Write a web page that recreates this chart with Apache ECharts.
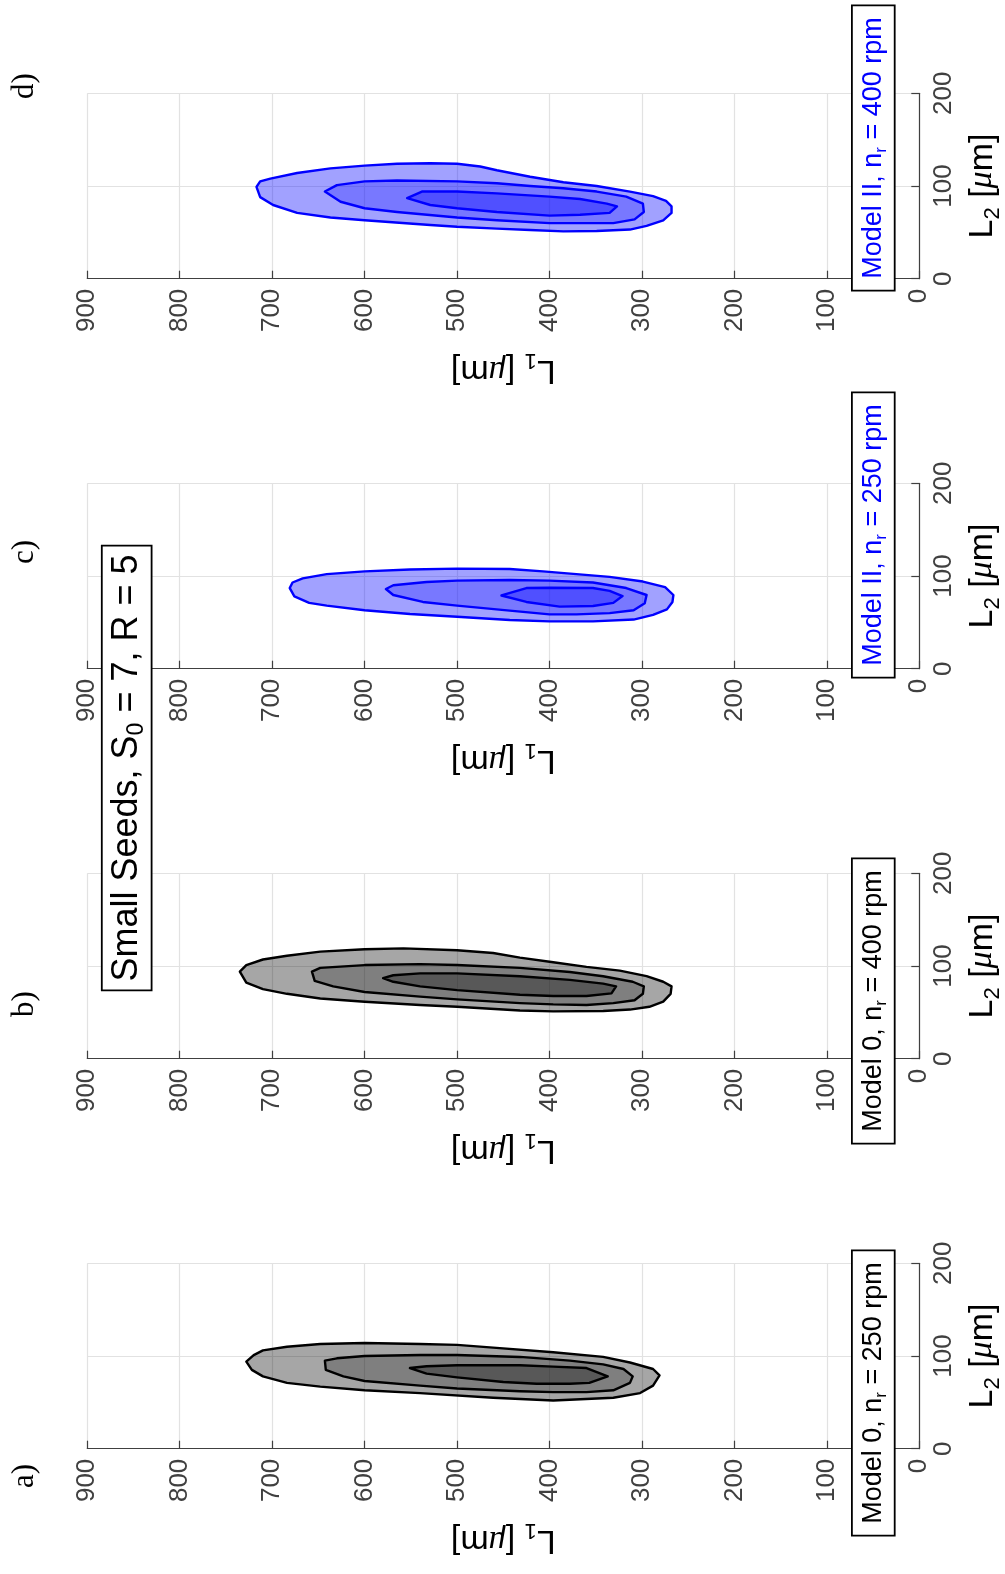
<!DOCTYPE html>
<html>
<head>
<meta charset="utf-8">
<script src="https://cdn.jsdelivr.net/npm/echarts@6/dist/echarts.min.js"></script>
<style>
html, body { margin: 0; padding: 0; background: #ffffff; }
#chart { width: 1005px; height: 1574px; }
</style>
</head>
<body>
<div id="chart"></div>
<script>
// ---------------- DATA ----------------
// Axis ticks
const L1_TICKS = [0, 100, 200, 300, 400, 500, 600, 700, 800, 900];
const L2_TICKS = [0, 100, 200];

// Panel texts
const PANEL_LETTERS = ['a)', 'b)', 'c)', 'd)'];
const PANEL_MODELS = ['Model 0', 'Model 0', 'Model II', 'Model II'];
const PANEL_RPM = ['250', '400', '250', '400'];
const FIG_TITLE = ['Small Seeds, S', '0', ' = 7, R = 5'];

// Contour polygons, points are [L1 (μm), L2 (μm)]
// Panel a) Model 0, 250 rpm
const a_outer = [[728,94],[720,101],[710,106],[684,110],[648,113],[600,114],[540,113],[500,112],[461,109],[396,104],[342,99],[313,93],[288,86],[281,79],[288,68],[302,60],[331,55],[396,52],[461,55],[540,60],[600,63],[648,67],[684,71],[710,78],[722,85]];
const a_mid = [[643,95],[630,97.5],[600,100],[540,101],[500,101],[432,99],[378,95],[342,91],[320,86],[310,78],[313,71],[331,63],[360,61],[396,61],[432,62],[500,65],[540,68],[600,73],[623,78],[642,85]];
const a_in = [[551,87],[533,89],[500,90],[432,90],[396,88.5],[360,87],[337,78],[357,71],[378,70],[414,70],[450,72],[500,77],[533,81]];
// Panel b) Model 0, 400 rpm
const b_outer = [[735,94],[728,101],[710,107],[684,111],[648,115.5],[600,118],[558,119],[500,117],[461,114],[432,109],[396,104],[360,99],[324,95],[295,89],[277,83],[268,78],[269,70],[277,61.5],[292,56],[313,53],[342,51.5],[396,51],[432,52],[500,56],[540,58],[600,61.5],[648,65],[684,70],[710,75],[728,82]];
const b_mid = [[657,94],[648,98],[600,101],[540,102],[500,101],[432,98],[378,93.5],[342,89],[310,83],[298,78],[299,70],[308,63],[331,60],[360,58],[396,58.6],[432,60],[500,64],[540,67],[600,72],[634,78],[654,84]];
const b_in = [[580,87],[569,90],[540,92],[500,92],[432,89],[378,85],[342,81],[328,78],[333,70.5],[360,67.6],[396,67.6],[432,69],[500,74],[540,78],[569,83]];
// Panel c) Model II, 250 rpm
const c_outer = [[681,87],[678,93],[667,97.5],[641,102],[600,105],[551,107],[500,108],[443,107.6],[407,105],[371,102],[335,99],[299,94],[275,88],[266,79.5],[267,72],[273,64],[288,58],[309,53],[353,51],[400,51],[443,52.5],[500,56],[551,59],[600,63],[641,68],[660,71],[676,78]];
const c_mid = [[577,86],[569,90],[533,93.5],[500,95],[443,95.7],[400,95],[353,93],[317,87],[295,79.5],[297,70.5],[309,63],[335,60],[371,58.6],[400,58.6],[443,62.6],[500,68],[537,72],[569,79.5]];
const c_in = [[452,79],[425,87],[400,87.4],[353,87],[335,84],[321,78.4],[331,71],[353,67.6],[389,67],[425,72]];
// Panel d) Model II, 400 rpm
const d_outer = [[717,99],[713,105],[702,108],[673,114],[637,119],[600,122],[565,124],[529,124.5],[500,124],[475,121],[457,117],[421,110],[385,104],[349,100],[313,94],[288,89],[274,84],[268,78],[268,71],[277,63],[295,57],[313,53],[349,51.4],[385,51],[421,52.5],[457,54],[500,56],[529,58],[600,63],[637,66],[673,71],[699,79.5],[713,88]];
const d_mid = [[643,94],[630,101],[600,105],[565,106],[500,105],[457,103],[421,100],[385,97.5],[349,94],[317,88.5],[299,81],[298,72],[308,64],[331,60],[367,60],[400,60],[457,63],[500,66],[565,72],[600,76],[626,83]];
const d_in = [[554,87],[538,94],[500,94],[457,92],[400,88.5],[367,86],[338,81],[327,78],[335,71],[367,69],[400,68],[457,72],[500,76],[529,79.5]];

const PANEL_CONTOURS = [
  [a_outer, a_mid, a_in],
  [b_outer, b_mid, b_in],
  [c_outer, c_mid, c_in],
  [d_outer, d_mid, d_in]
];

// ---------------- STYLE / LAYOUT ----------------
const GRID_TOPS = [1263.3, 873.3, 483.3, 93.3];   // panel a at bottom, d at top
const GRID_LEFT = 87.3, GRID_W = 832, GRID_H = 185.4;
const GRAY_FILLS = ['rgba(0,0,0,0.35)', 'rgba(0,0,0,0.23)', 'rgba(0,0,0,0.30)'];
const BLUE_FILLS = ['rgba(0,0,255,0.37)', 'rgba(0,0,255,0.25)', 'rgba(0,0,255,0.33)'];
const PANEL_IS_BLUE = [false, false, true, true];
const BOX_CENTERS_Y = [1393, 1001, 535, 148];
const LETTER_Y = [1476, 1004, 552, 86];
const AXIS_COLOR = '#404040';
const SANS = '"Liberation Sans", Arial, Helvetica, sans-serif';
const SERIF = '"Liberation Serif", "DejaVu Serif", serif';

const nameRich = {
  L: { fontSize: 34, fontFamily: SANS, color: '#000', lineHeight: 44, verticalAlign: 'middle' },
  s: { fontSize: 22, fontFamily: SANS, color: '#000', lineHeight: 22, verticalAlign: 'bottom' },
  b: { fontSize: 34, fontFamily: SANS, color: '#000', lineHeight: 44, verticalAlign: 'middle' },
  mu: { fontSize: 34, fontFamily: SERIF, fontStyle: 'italic', color: '#000', lineHeight: 44, verticalAlign: 'middle' }
};

const grids = [], xAxes = [], yAxes = [], series = [], graphics = [];

for (let i = 0; i < 4; i++) {
  grids.push({ left: GRID_LEFT, top: GRID_TOPS[i], width: GRID_W, height: GRID_H, containLabel: false, outerBoundsMode: 'none' });
  xAxes.push({
    gridIndex: i, type: 'value', inverse: true,
    min: L1_TICKS[0], max: L1_TICKS[L1_TICKS.length - 1], interval: L1_TICKS[1] - L1_TICKS[0],
    axisLine: { show: true, onZero: false, lineStyle: { color: AXIS_COLOR, width: 1.2 } },
    axisTick: { show: true, inside: true, length: 8, lineStyle: { color: AXIS_COLOR, width: 1.2 } },
    axisLabel: { show: true, rotate: 90, margin: 10, fontSize: 26, color: AXIS_COLOR, fontFamily: SANS, showMinLabel: true, showMaxLabel: true, hideOverlap: false },
    splitLine: { show: true, lineStyle: { color: '#e2e2e2', width: 1.2 } },
    name: '{L|L}{s|1}{b| [}{mu|μ}{b|m]}',
    nameLocation: 'middle', nameGap: 70, nameRotate: 180,
    nameTextStyle: { rich: nameRich }
  });
  yAxes.push({
    gridIndex: i, type: 'value', position: 'right',
    min: L2_TICKS[0], max: L2_TICKS[L2_TICKS.length - 1], interval: L2_TICKS[1] - L2_TICKS[0],
    axisLine: { show: true, onZero: false, lineStyle: { color: AXIS_COLOR, width: 1.2 } },
    axisTick: { show: true, inside: true, length: 8, lineStyle: { color: AXIS_COLOR, width: 1.2 } },
    axisLabel: { show: true, rotate: 90, margin: 12, fontSize: 26, color: AXIS_COLOR, fontFamily: SANS, showMinLabel: true, showMaxLabel: true, hideOverlap: false },
    splitLine: { show: true, lineStyle: { color: '#e2e2e2', width: 1.2 } },
    name: '{L|L}{s|2}{b| [}{mu|μ}{b|m]}',
    nameLocation: 'middle', nameGap: 37, nameRotate: 90,
    nameTextStyle: { rich: nameRich }
  });

  const fills = PANEL_IS_BLUE[i] ? BLUE_FILLS : GRAY_FILLS;
  const stroke = PANEL_IS_BLUE[i] ? '#0000ff' : '#000000';
  PANEL_CONTOURS[i].forEach(function (pts, k) {
    series.push({
      type: 'custom', xAxisIndex: i, yAxisIndex: i, data: pts, clip: false, silent: true, z: 2 + k,
      renderItem: function (params, api) {
        if (params.dataIndex !== 0) return;
        const points = pts.map(function (p) { return api.coord(p); });
        return { type: 'polygon', shape: { points: points }, style: { fill: fills[k], stroke: stroke, lineWidth: 2.4, lineJoin: 'round' } };
      }
    });
  });

  // model box
  const txtColor = PANEL_IS_BLUE[i] ? '#0000ff' : '#000000';
  graphics.push({
    type: 'text', x: 873.3, y: BOX_CENTERS_Y[i], rotation: Math.PI / 2, z: 100,
    style: {
      text: '{t|' + PANEL_MODELS[i] + ', n}{s|r}{t| = ' + PANEL_RPM[i] + ' rpm}',
      rich: {
        t: { fontSize: 27, fontFamily: SANS, fill: txtColor, lineHeight: 33, verticalAlign: 'middle' },
        s: { fontSize: 17, fontFamily: SANS, fill: txtColor, lineHeight: 17, verticalAlign: 'bottom' }
      },
      align: 'center', verticalAlign: 'middle',
      backgroundColor: '#ffffff', borderColor: '#000000', borderWidth: 1.8, padding: [4, 11]
    }
  });
  // panel letter
  graphics.push({
    type: 'text', x: 25, y: LETTER_Y[i], rotation: Math.PI / 2, z: 100,
    style: { text: PANEL_LETTERS[i], fontSize: 31, fontFamily: SERIF, fill: '#000', align: 'center', verticalAlign: 'middle' }
  });
}

// figure title box
graphics.push({
  type: 'text', x: 126.7, y: 768, rotation: Math.PI / 2, z: 100,
  style: {
    text: '{t|' + FIG_TITLE[0] + '}{s|' + FIG_TITLE[1] + '}{t|' + FIG_TITLE[2] + '}',
    rich: {
      t: { fontSize: 36, fontFamily: SANS, fill: '#000', lineHeight: 42, verticalAlign: 'middle' },
      s: { fontSize: 23, fontFamily: SANS, fill: '#000', lineHeight: 22, verticalAlign: 'bottom' }
    },
    align: 'center', verticalAlign: 'middle',
    backgroundColor: '#ffffff', borderColor: '#000000', borderWidth: 1.8, padding: [3, 8]
  }
});

const chart = echarts.init(document.getElementById('chart'), null, { renderer: 'canvas' });
chart.setOption({
  animation: false,
  backgroundColor: '#ffffff',
  grid: grids,
  xAxis: xAxes,
  yAxis: yAxes,
  series: series,
  graphic: graphics
});
</script>
</body>
</html>
